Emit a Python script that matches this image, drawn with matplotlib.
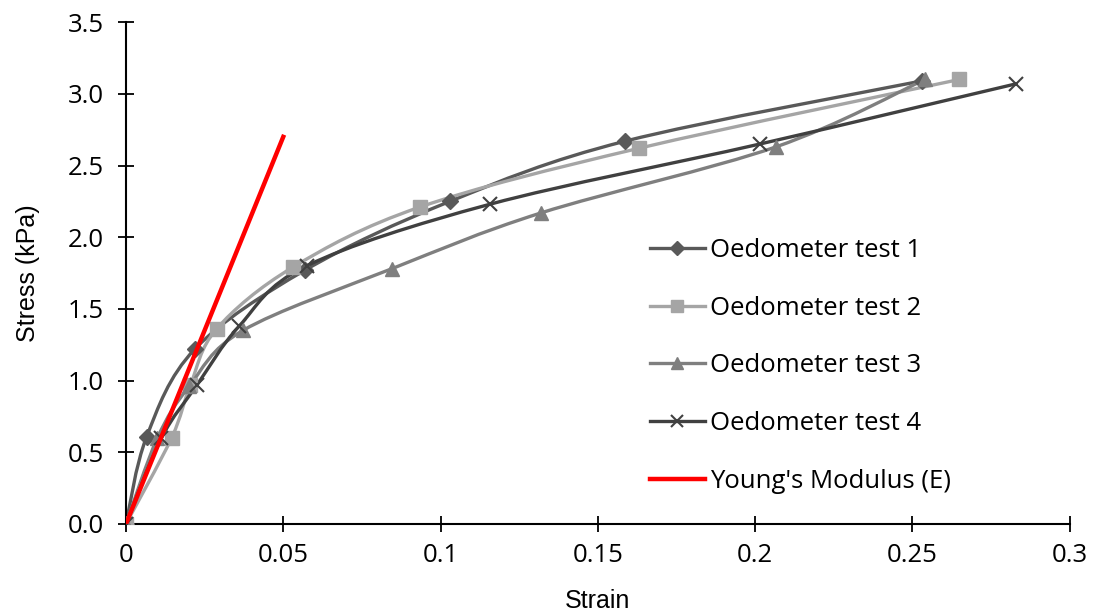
import numpy as np
import matplotlib
matplotlib.use("Agg")
import matplotlib.pyplot as plt
from matplotlib.path import Path
from matplotlib.patches import PathPatch
from matplotlib.lines import Line2D

# === DATA ===
test1_strain = [0.0, 0.0066, 0.0219, 0.0569, 0.1030, 0.1587, 0.2530]
test1_stress = [0.0, 0.61, 1.22, 1.77, 2.25, 2.67, 3.09]

test2_strain = [0.0, 0.0145, 0.0205, 0.0288, 0.0530, 0.0934, 0.1630, 0.2649]
test2_stress = [0.0, 0.60, 0.97, 1.36, 1.79, 2.21, 2.62, 3.10]

test3_strain = [0.0, 0.0100, 0.0201, 0.0372, 0.0845, 0.1320, 0.2066, 0.2540]
test3_stress = [0.0, 0.60, 0.96, 1.35, 1.78, 2.17, 2.63, 3.10]

test4_strain = [0.0, 0.0113, 0.0226, 0.0360, 0.0574, 0.1157, 0.2015, 0.2830]
test4_stress = [0.0, 0.60, 0.97, 1.38, 1.80, 2.23, 2.65, 3.07]

young_strain = [0.0, 0.05]
young_stress = [0.0, 2.70]

labels = ["Oedometer test 1", "Oedometer test 2", "Oedometer test 3",
          "Oedometer test 4", "Young's Modulus (E)"]

TICK_FONT = "Open Sans"
LABEL_FONT = "Liberation Sans"


def smooth_path(xs, ys):
    # Excel-style smoothed line: Catmull-Rom converted to cubic Bezier
    pts = np.column_stack([xs, ys])
    verts = [pts[0]]
    codes = [Path.MOVETO]
    n = len(pts)
    for i in range(n - 1):
        p0 = pts[i - 1] if i > 0 else pts[i]
        p1 = pts[i]
        p2 = pts[i + 1]
        p3 = pts[i + 2] if i + 2 < n else pts[i + 1]
        c1 = p1 + (p2 - p0) / 6.0
        c2 = p2 - (p3 - p1) / 6.0
        verts += [c1, c2, p2]
        codes += [Path.CURVE4] * 3
    return Path(verts, codes)


fig = plt.figure(figsize=(11, 6.15), dpi=100)
ax = fig.add_axes([0.1145, 0.148, 0.858, 0.816])

series = [
    (test1_strain, test1_stress, "#595959", "D", 8.5, 1.0),
    (test2_strain, test2_stress, "#a5a5a5", "s", 10, 1.0),
    (test3_strain, test3_stress, "#7f7f7f", "^", 10, 1.0),
    (test4_strain, test4_stress, "#404040", "x", 10, 1.5),
]

handles = []
for xs, ys, col, mk, ms, mew in series:
    ax.add_patch(PathPatch(smooth_path(xs, ys), facecolor="none",
                           edgecolor=col, lw=2.4, zorder=2))
    ax.plot(xs, ys, linestyle="none", marker=mk, ms=ms, color=col,
            mew=mew, zorder=3)
    handles.append(Line2D([], [], color=col, lw=2.4, marker=mk,
                          ms=ms * 0.8, mew=mew))

ax.plot(young_strain, young_stress, color="#ff0000", lw=3.2, zorder=4)
handles.append(Line2D([], [], color="#ff0000", lw=3.2))

ax.set_xlim(0, 0.3)
ax.set_ylim(0, 3.5)
ax.set_xticks([0, 0.05, 0.1, 0.15, 0.2, 0.25, 0.3])
ax.set_xticklabels(["0", "0.05", "0.1", "0.15", "0.2", "0.25", "0.3"])
ax.set_yticks(np.arange(0, 3.51, 0.5))
ax.set_yticklabels([f"{v:.1f}" for v in np.arange(0, 3.51, 0.5)])

for s in ["top", "right"]:
    ax.spines[s].set_visible(False)
for s in ["left", "bottom"]:
    ax.spines[s].set_linewidth(1.5)
ax.tick_params(direction="inout", length=12, width=1.3, labelsize=18.5)
ax.tick_params(axis="y", pad=10)
ax.tick_params(axis="x", pad=8)
for lab in ax.get_xticklabels() + ax.get_yticklabels():
    lab.set_fontfamily(TICK_FONT)

ax.set_xlabel("Strain", fontsize=18, family=LABEL_FONT, labelpad=15)
ax.set_ylabel("Stress (kPa)", fontsize=18, family=LABEL_FONT, labelpad=20)

leg = ax.legend(handles, labels, loc="center left",
                bbox_to_anchor=(0.555, 0.315), frameon=False,
                prop={"family": TICK_FONT, "size": 18.5},
                handlelength=2.15, handletextpad=0.2, labelspacing=1.28,
                borderaxespad=0, borderpad=0)

fig.savefig("out.png", dpi=100)
